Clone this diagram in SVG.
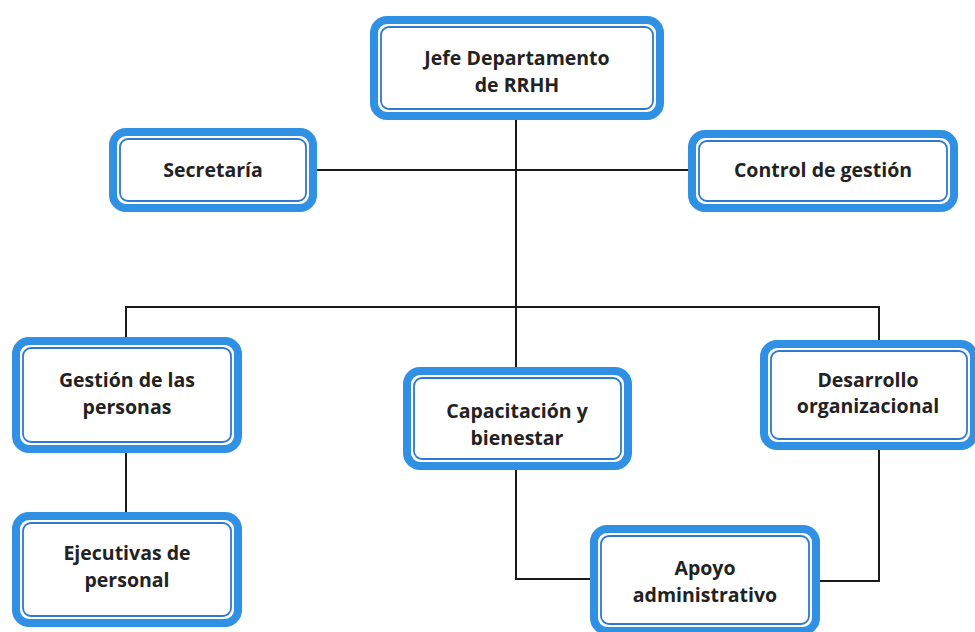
<svg xmlns="http://www.w3.org/2000/svg" width="975" height="632" viewBox="0 0 975 632">
<style>
.o{fill:#fff;stroke:#3090e4;stroke-width:8}
.i{fill:none;stroke:#2f78d0;stroke-width:1.8}
.t{font-family:"Open Sans","Liberation Sans",sans-serif;font-weight:700;font-size:19.5px;fill:#222;text-anchor:middle}
.c{fill:none;stroke:#1a1a1a;stroke-width:2}
</style>
<rect width="975" height="632" fill="#fff"/>
<g id="connectors">
<path class="c" d="M516 120V367"/>
<path class="c" d="M317 170H688"/>
<path class="c" d="M126 337V307H879V340"/>
<path class="c" d="M126 453V512"/>
<path class="c" d="M516 470V579H590"/>
<path class="c" d="M879 450V581H820"/>
</g>
<g id="jefe">
<rect class="o" x="374" y="20" width="286" height="96" rx="13"/>
<rect class="i" x="381" y="27" width="272" height="82" rx="8"/>
<text class="t" x="517" y="65">Jefe Departamento</text>
<text class="t" x="517" y="92">de RRHH</text>
</g>
<g id="secretaria">
<rect class="o" x="113" y="132" width="200" height="76" rx="13"/>
<rect class="i" x="120" y="139" width="186" height="62" rx="8"/>
<text class="t" x="213" y="177">Secretaría</text>
</g>
<g id="control">
<rect class="o" x="692" y="134" width="262" height="74" rx="13"/>
<rect class="i" x="699" y="141" width="248" height="60" rx="8"/>
<text class="t" x="823" y="177">Control de gestión</text>
</g>
<g id="gestion">
<rect class="o" x="16" y="341" width="222" height="108" rx="13"/>
<rect class="i" x="23" y="348" width="208" height="94" rx="8"/>
<text class="t" x="127" y="387">Gestión de las</text>
<text class="t" x="127" y="414">personas</text>
</g>
<g id="capacitacion">
<rect class="o" x="407" y="371" width="221" height="95" rx="13"/>
<rect class="i" x="414" y="378" width="207" height="81" rx="8"/>
<text class="t" x="517" y="418">Capacitación y</text>
<text class="t" x="517" y="445">bienestar</text>
</g>
<g id="desarrollo">
<rect class="o" x="764" y="344" width="210" height="102" rx="13"/>
<rect class="i" x="771" y="351" width="196" height="88" rx="8"/>
<text class="t" x="868" y="387">Desarrollo</text>
<text class="t" x="868" y="413">organizacional</text>
</g>
<g id="ejecutivas">
<rect class="o" x="16" y="516" width="222" height="107" rx="13"/>
<rect class="i" x="23" y="523" width="208" height="93" rx="8"/>
<text class="t" x="127" y="560">Ejecutivas de</text>
<text class="t" x="127" y="587">personal</text>
</g>
<g id="apoyo">
<rect class="o" x="594" y="529" width="222" height="102" rx="13"/>
<rect class="i" x="601" y="536" width="208" height="88" rx="8"/>
<text class="t" x="705" y="575">Apoyo</text>
<text class="t" x="705" y="602">administrativo</text>
</g>
</svg>
